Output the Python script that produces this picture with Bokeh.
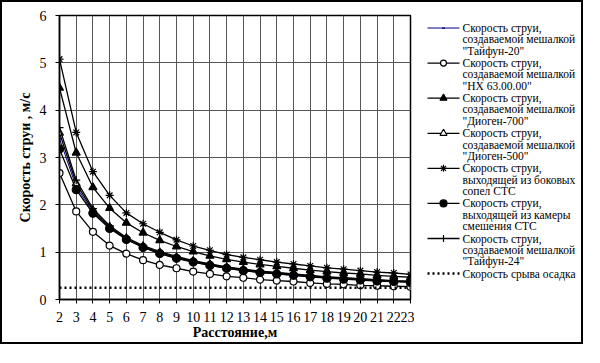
from bokeh.plotting import figure
from bokeh.models import Range1d, FixedTicker
from bokeh.layouts import row
from bokeh.core.properties import value
from bokeh.embed import file_html
from bokeh.resources import INLINE

distance = list(range(2, 24))

taifun20 = [3.40, 2.38, 1.85, 1.51, 1.27, 1.10, 0.97, 0.87, 0.79, 0.72, 0.66,
            0.61, 0.57, 0.54, 0.51, 0.48, 0.46, 0.44, 0.42, 0.40, 0.38, 0.37]
hx63 = [2.67, 1.86, 1.43, 1.14, 0.97, 0.83, 0.73, 0.66, 0.59, 0.54, 0.49,
        0.46, 0.42, 0.40, 0.38, 0.35, 0.33, 0.32, 0.30, 0.29, 0.28, 0.27]
diogen700 = [4.47, 3.10, 2.37, 1.93, 1.62, 1.41, 1.25, 1.12, 1.01, 0.92, 0.85,
             0.79, 0.74, 0.70, 0.66, 0.62, 0.59, 0.56, 0.54, 0.51, 0.49, 0.47]
diogen500 = [3.52, 2.45, 1.88, 1.53, 1.29, 1.12, 0.99, 0.89, 0.81, 0.74, 0.68,
             0.63, 0.59, 0.56, 0.53, 0.50, 0.47, 0.45, 0.43, 0.41, 0.39, 0.38]
sts_side = [5.08, 3.53, 2.70, 2.20, 1.83, 1.60, 1.42, 1.26, 1.13, 1.04, 0.95,
            0.89, 0.84, 0.79, 0.75, 0.71, 0.67, 0.64, 0.61, 0.58, 0.56, 0.53]
sts_mix = [3.18, 2.32, 1.82, 1.50, 1.27, 1.10, 0.97, 0.87, 0.79, 0.72, 0.66,
           0.61, 0.57, 0.54, 0.51, 0.48, 0.45, 0.43, 0.41, 0.39, 0.38, 0.36]
taifun24 = [3.63, 2.52, 1.92, 1.56, 1.31, 1.14, 1.01, 0.91, 0.82, 0.75, 0.69,
            0.64, 0.60, 0.57, 0.54, 0.51, 0.48, 0.46, 0.44, 0.42, 0.40, 0.39]
sediment = [0.25] * len(distance)

labels = [
    ["Скорость струи,", "создаваемой мешалкой", '"Тайфун-20"'],
    ["Скорость струи,", "создаваемой мешалкой", '"НХ 63.00.00"'],
    ["Скорость струи,", "создаваемой мешалкой", '"Диоген-700"'],
    ["Скорость струи,", "создаваемой мешалкой", '"Диоген-500"'],
    ["Скорость струи,", "выходящей из боковых", "сопел СТС"],
    ["Скорость струи,", "выходящей из камеры", "смешения СТС"],
    ["Скорость струи,", "создаваемой мешалкой", '"Тайфун-24"'],
    ["Скорость срыва осадка"],
]

FONT = "Liberation Serif"

p = figure(width=412, height=340, output_backend="svg", toolbar_location=None,
           x_range=Range1d(2, 23), y_range=Range1d(0, 6),
           min_border_left=57, min_border_right=4, min_border_top=13,
           min_border_bottom=39, background_fill_color="white",
           border_fill_color="white")
p.outline_line_color = "black"
p.outline_line_width = 1.5

p.xaxis.ticker = FixedTicker(ticks=distance)
p.yaxis.ticker = FixedTicker(ticks=[0, 1, 2, 3, 4, 5, 6])
for ax in (p.xaxis[0], p.yaxis[0]):
    ax.axis_line_color = "black"
    ax.axis_line_width = 1.5
    ax.major_tick_line_color = "black"
    ax.major_tick_in = 0
    ax.major_tick_out = 4
    ax.minor_tick_line_color = None
    ax.major_label_text_font = FONT
    ax.major_label_text_font_size = "14px"
    ax.major_label_text_color = "black"
    ax.axis_label_text_font = FONT
    ax.axis_label_text_font_size = "14px"
    ax.axis_label_text_font_style = "bold"
    ax.axis_label_text_color = "black"
p.xaxis.axis_label = "Расстояние,м"
p.yaxis.axis_label = "Скорость струи , м/с"
p.xaxis.major_label_standoff = 8
p.xaxis.axis_label_standoff = 0
p.yaxis.major_label_standoff = 9
p.yaxis.axis_label_standoff = 4

p.xgrid.grid_line_color = "#555555"
p.ygrid.grid_line_color = "#555555"
p.xgrid.grid_line_width = 1
p.ygrid.grid_line_width = 1

# legend panel drawn as its own small figure (pixel-like coordinates)
LW, LH = 167, 340
lg = figure(width=LW, height=LH, output_backend="svg", toolbar_location=None,
            x_range=Range1d(0, LW), y_range=Range1d(LH, 0),
            min_border=0, background_fill_color="white",
            border_fill_color="white")
lg.axis.visible = False
lg.grid.visible = False
lg.outline_line_color = None

styles = [
    dict(marker="dash", fill="#000080", color="#000080", size=4, lw=1),
    dict(marker="circle", fill="white", color="black", size=7, lw=1.3),
    dict(marker="triangle", fill="black", color="black", size=8, lw=1.3),
    dict(marker="triangle", fill="white", color="black", size=8, lw=1.3),
    dict(marker="asterisk", fill=None, color="black", size=8, lw=1.3),
    dict(marker="circle", fill="black", color="black", size=8, lw=1.3),
    dict(marker="cross", fill=None, color="black", size=8, lw=1.3),
]
all_series = [taifun20, hx63, diogen700, diogen500, sts_side, sts_mix, taifun24]

GX0, GX1, TX, TOP, STEP, LINE = 13, 45, 48, 15, 42, 13.5
for i, (series, st) in enumerate(zip(all_series, styles)):
    p.line(distance, series, line_color=st["color"], line_width=st["lw"])
    p.scatter(distance, series, marker=st["marker"], size=st["size"],
              line_color=st["color"], fill_color=st["fill"], line_width=1.2)
    y0 = TOP + i * STEP
    lg.line([GX0, GX1], [y0, y0], line_color=st["color"], line_width=st["lw"])
    lg.scatter([(GX0 + GX1) / 2], [y0], marker=st["marker"],
               size=st["size"] - 1, line_color=st["color"],
               fill_color=st["fill"], line_width=1.2)
    ys = [y0 + k * LINE for k in range(len(labels[i]))]
    lg.text([TX] * len(ys), ys, text=labels[i], text_font=value(FONT),
            text_font_size="11.5px", text_baseline="middle", text_color="black")

p.line(distance, sediment, line_color="black", line_width=2.5, line_dash="2 3")
y0 = TOP + 7 * STEP
lg.line([GX0, GX1], [y0, y0], line_color="black", line_width=2.5, line_dash="2 3")
lg.text([TX], [y0], text=labels[7], text_font=value(FONT),
        text_font_size="11.5px", text_baseline="middle", text_color="black")

layout = row(p, lg, styles={"border": "2px solid black"})

open("out.html", "w").write(file_html(layout, INLINE))
